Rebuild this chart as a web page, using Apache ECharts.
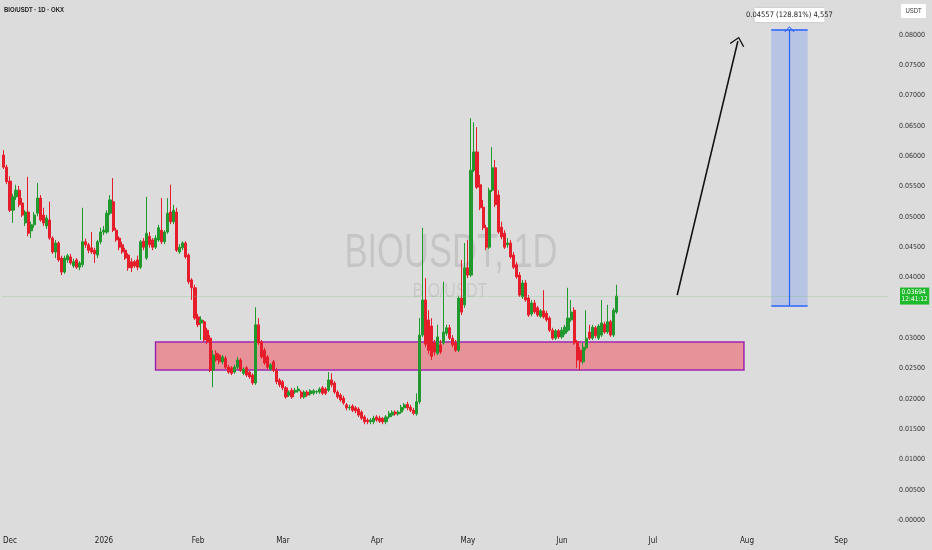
<!DOCTYPE html>
<html><head><meta charset="utf-8">
<script src="https://cdn.jsdelivr.net/npm/echarts@6/dist/echarts.min.js"></script>
<style>html,body{margin:0;padding:0;background:#dcdcdc}#c{width:932px;height:550px}</style>
</head><body><div id="c"></div>
<script>
// ---- data ----
const startDate = '2025-11-29';   // first category (daily)
const dayCount = 292;             // categories through mid-September 2026
const monthNames = ['2026','Feb','Mar','Apr','May','Jun','Jul','Aug','Sep','Oct','Nov','Dec'];

const openP = [
.0602,.0582,.0559,.0511,.0533,.0544,.0523,.0490,.0508,.0477,
.0487,.0506,.0531,.0503,.0485,.0495,.0465,.0442,.0457,.0432,
.0409,.0429,.0434,.0419,.0429,.0417,.0421,.0459,.0454,.0449,
.0445,.0437,.0459,.0475,.0475,.0506,.0525,.0478,.0465,.0454,
.0445,.0437,.0426,.0426,.0429,.0417,.0460,.0432,.0468,.0462,
.0450,.0462,.0478,.0459,.0475,.0508,.0492,.0508,.0442,.0449,
.0457,.0437,.0396,.0383,.0335,.0325,.0327,.0313,.0300,.0247,
.0275,.0272,.0261,.0267,.0252,.0251,.0244,.0252,.0264,.0242,
.0251,.0244,.0239,.0226,.0322,.0294,.0280,.0269,.0249,.0261,
.0247,.0231,.0228,.0218,.0206,.0214,.0211,.0213,.0211,.0203,
.0211,.0208,.0209,.0211,.0211,.0218,.0216,.0214,.0231,.0226,
.0211,.0206,.0201,.0190,.0185,.0188,.0185,.0183,.0178,.0170,
.0165,.0162,.0162,.0170,.0168,.0167,.0162,.0170,.0173,.0178,
.0175,.0178,.0185,.0191,.0186,.0181,.0175,.0195,.0305,.0363,
.0330,.0320,.0292,.0275,.0289,.0292,.0308,.0317,.0300,.0292,
.0280,.0366,.0355,.0416,.0404,.0577,.0607,.0553,.0516,.0482,
.0450,.0544,.0581,.0536,.0483,.0473,.0454,.0457,.0437,.0421,
.0404,.0368,.0391,.0366,.0340,.0358,.0350,.0336,.0345,.0341,
.0333,.0313,.0300,.0312,.0302,.0308,.0313,.0330,.0346,.0294,
.0280,.0261,.0284,.0310,.0300,.0317,.0300,.0305,.0323,.0310,
.0327,.0305,.0343];
const closeP = [
.0582,.0558,.0511,.0533,.0544,.0520,.0503,.0508,.0473,.0487,
.0503,.0531,.0495,.0490,.0498,.0465,.0442,.0457,.0429,.0409,
.0432,.0436,.0424,.0426,.0417,.0424,.0459,.0454,.0445,.0442,
.0439,.0459,.0475,.0478,.0506,.0528,.0478,.0462,.0450,.0442,
.0432,.0416,.0416,.0419,.0417,.0459,.0450,.0473,.0454,.0450,
.0465,.0482,.0459,.0475,.0506,.0492,.0511,.0445,.0450,.0457,
.0434,.0393,.0383,.0333,.0322,.0330,.0297,.0294,.0247,.0272,
.0264,.0261,.0269,.0252,.0244,.0242,.0252,.0264,.0247,.0249,
.0239,.0236,.0226,.0322,.0292,.0269,.0259,.0252,.0256,.0247,
.0228,.0223,.0218,.0203,.0211,.0203,.0214,.0216,.0203,.0211,
.0206,.0213,.0213,.0212,.0216,.0209,.0209,.0231,.0223,.0211,
.0203,.0198,.0193,.0185,.0186,.0181,.0180,.0173,.0168,.0162,
.0162,.0165,.0168,.0165,.0163,.0162,.0170,.0176,.0178,.0175,
.0178,.0186,.0190,.0185,.0181,.0176,.0195,.0305,.0363,.0290,
.0280,.0270,.0277,.0302,.0277,.0310,.0317,.0300,.0289,.0280,
.0366,.0343,.0416,.0404,.0577,.0607,.0549,.0515,.0482,.0450,
.0544,.0581,.0520,.0475,.0467,.0450,.0457,.0434,.0417,.0401,
.0371,.0391,.0363,.0338,.0358,.0343,.0338,.0345,.0335,.0330,
.0313,.0300,.0312,.0302,.0313,.0318,.0333,.0343,.0292,.0264,
.0261,.0285,.0300,.0300,.0318,.0304,.0320,.0325,.0310,.0327,
.0305,.0346,.03694];
const lowP = [
.0579,.0554,.0508,.0490,.0528,.0516,.0500,.0485,.0468,.0465,
.0482,.0501,.0492,.0485,.0480,.0462,.0439,.0432,.0426,.0404,
.0406,.0424,.0421,.0416,.0414,.0412,.0417,.0449,.0440,.0439,
.0424,.0432,.0455,.0470,.0472,.0503,.0475,.0459,.0445,.0439,
.0429,.0411,.0409,.0416,.0412,.0414,.0445,.0429,.0449,.0445,
.0447,.0459,.0455,.0455,.0472,.0488,.0488,.0442,.0439,.0445,
.0431,.0389,.0363,.0330,.0318,.0297,.0294,.0290,.0244,.0219,
.0261,.0257,.0257,.0249,.0241,.0239,.0241,.0249,.0244,.0239,
.0236,.0233,.0223,.0223,.0289,.0266,.0256,.0249,.0246,.0244,
.0224,.0219,.0214,.0200,.0203,.0200,.0208,.0210,.0200,.0200,
.0203,.0205,.0206,.0208,.0208,.0206,.0206,.0211,.0219,.0208,
.0200,.0195,.0190,.0181,.0181,.0178,.0176,.0170,.0165,.0158,
.0158,.0158,.0158,.0162,.0160,.0158,.0158,.0167,.0170,.0172,
.0172,.0175,.0181,.0181,.0178,.0173,.0172,.0191,.0302,.0285,
.0274,.0264,.0271,.0272,.0274,.0289,.0304,.0297,.0285,.0277,
.0277,.0338,.0350,.0399,.0401,.0574,.0546,.0511,.0478,.0445,
.0447,.0541,.0516,.0472,.0463,.0447,.0449,.0431,.0414,.0398,
.0368,.0365,.0360,.0335,.0336,.0340,.0335,.0333,.0332,.0327,
.0310,.0297,.0297,.0299,.0299,.0305,.0310,.0327,.0289,.0251,
.0247,.0257,.0280,.0297,.0297,.0300,.0297,.0302,.0307,.0307,
.0302,.0302,.0340];
const highP = [
.0610,.0586,.0567,.0538,.0553,.0551,.0531,.0511,.0566,.0492,
.0508,.0556,.0536,.0515,.0503,.0525,.0468,.0462,.0460,.0436,
.0436,.0439,.0439,.0431,.0432,.0427,.0515,.0464,.0457,.0475,
.0449,.0462,.0482,.0485,.0511,.0536,.0564,.0482,.0468,.0459,
.0449,.0440,.0432,.0429,.0436,.0462,.0465,.0533,.0475,.0465,
.0470,.0487,.0531,.0478,.0531,.0553,.0520,.0515,.0455,.0460,
.0460,.0440,.0399,.0388,.0340,.0336,.0330,.0317,.0305,.0280,
.0280,.0275,.0272,.0271,.0256,.0254,.0256,.0269,.0267,.0252,
.0254,.0247,.0242,.0351,.0333,.0297,.0284,.0272,.0259,.0264,
.0251,.0234,.0231,.0221,.0214,.0218,.0218,.0221,.0214,.0214,
.0214,.0216,.0216,.0214,.0219,.0221,.0219,.0244,.0242,.0229,
.0214,.0209,.0205,.0193,.0190,.0191,.0188,.0186,.0181,.0173,
.0168,.0168,.0172,.0173,.0172,.0170,.0173,.0180,.0181,.0181,
.0181,.0190,.0193,.0195,.0190,.0185,.0209,.0333,.0482,.0399,
.0346,.0333,.0297,.0322,.0297,.0393,.0322,.0322,.0305,.0297,
.0369,.0429,.0457,.0462,.0663,.0656,.0648,.0569,.0528,.0487,
.0548,.0615,.0594,.0544,.0492,.0478,.0465,.0462,.0442,.0426,
.0409,.0396,.0396,.0371,.0363,.0363,.0353,.0348,.0379,.0345,
.0336,.0317,.0315,.0315,.0318,.0322,.0383,.0363,.0351,.0297,
.0285,.0292,.0346,.0322,.0322,.0320,.0323,.0363,.0327,.0355,
.0330,.0350,.0388];

const lastPrice = 0.03694;
const lastTime = '12:41:12';
const zone = {from:'2026-01-18', to:'2026-07-31', top:0.02936, bottom:0.02474};
const target = {from:'2026-08-09', mid:'2026-08-15', to:'2026-08-21', base:0.03538, top:0.08095, labelY:0.0833,
                text:'0.04557 (128.81%) 4,557'};
const arrowLine = {from:['2026-07-09',0.0371], to:['2026-07-29',0.0790]};

// ---- build ----
const dates = [];
{
  const t0 = Date.parse(startDate + 'T00:00:00Z');
  for (let i = 0; i < dayCount; i++) dates.push(new Date(t0 + i * 86400000).toISOString().slice(0, 10));
}
const candles = openP.map((o, i) => [o, closeP[i], lowP[i], highP[i]]);

const FONT = "'Liberation Sans Narrow','DejaVu Sans Condensed','Roboto Condensed','Liberation Sans',sans-serif";
const UP = '#22992f', DOWN = '#e61e2b';
const chevron = 'path://M7.5,0 L15,8.2 L13.9,9 L7.5,1.9 L1.1,9 L0,8.2 Z';

const chart = echarts.init(document.getElementById('c'), null, {renderer: 'canvas'});
chart.setOption({
  backgroundColor: '#dcdcdc',
  animation: false,
  grid: {left: 0, right: 44, top: 4.7, bottom: 30},
  xAxis: {
    type: 'category', data: dates, boundaryGap: true,
    axisLine: {show: false}, axisTick: {show: false}, splitLine: {show: false},
    axisLabel: {
      interval: (i, v) => v.slice(8) === '01',
      formatter: v => { const m = +v.slice(5, 7); return m === 12 ? 'Dec' : monthNames[m - 1]; },
      color: '#222', fontSize: 8, fontFamily: FONT, margin: 17
    }
  },
  yAxis: {
    type: 'value', position: 'right', min: 0, max: 0.085, interval: 0.005, scale: false,
    axisLine: {show: false}, axisTick: {show: false}, splitLine: {show: false},
    axisLabel: {
      showMaxLabel: false, align: 'right', margin: 37, color: '#333', fontSize: 7, fontFamily: FONT,
      formatter: v => Math.abs(v) < 1e-9 ? '-0.00000' : (Math.abs(v - 0.035) < 1e-9 ? '' : v.toFixed(5))
    }
  },
  series: [{
    type: 'candlestick', data: candles, barWidth: 2.6,
    itemStyle: {color: UP, color0: DOWN, borderColor: UP, borderColor0: DOWN, borderWidth: 1},
    markArea: {
      silent: true,
      data: [
        [{xAxis: zone.from, yAxis: zone.top, itemStyle: {color: 'rgba(242,58,72,0.46)', borderColor: '#9c27b0', borderWidth: 1.5}},
         {xAxis: zone.to, yAxis: zone.bottom}],
        [{xAxis: target.from, yAxis: target.top, itemStyle: {color: 'rgba(41,98,255,0.2)', borderWidth: 0}},
         {xAxis: target.to, yAxis: target.base}]
      ]
    },
    markLine: {
      silent: true, symbol: 'none', animation: false, precision: 6,
      data: [
        {yAxis: lastPrice, lineStyle: {color: 'rgba(120,190,120,0.55)', type: 'dotted', width: 1},
         label: {show: true, position: 'end', distance: 12, formatter: p => (+p.value).toFixed(5) + '\n' + lastTime,
                 backgroundColor: '#1fba2c', color: '#fff', fontSize: 6.5, lineHeight: 7.5, padding: [1, 1.5], fontFamily: FONT}},
        [{coord: arrowLine.from, symbol: 'none', lineStyle: {color: '#111', width: 1.6, type: 'solid'}, label: {show: false}},
         {coord: arrowLine.to, symbol: chevron, symbolSize: [15, 9], lineStyle: {color: '#111', width: 1.6, type: 'solid'}}],
        [{coord: [target.mid, target.base], symbol: 'none', lineStyle: {color: '#2962ff', width: 1.2, type: 'solid'}, label: {show: false}},
         {coord: [target.mid, target.top], symbol: chevron, symbolSize: [10, 6], lineStyle: {color: '#2962ff', width: 1.2, type: 'solid'}}],
        [{coord: [target.from, target.top], lineStyle: {color: '#2962ff', width: 1.5, type: 'solid'}, label: {show: false}},
         {coord: [target.to, target.top]}],
        [{coord: [target.from, target.base], lineStyle: {color: '#2962ff', width: 1.5, type: 'solid'}, label: {show: false}},
         {coord: [target.to, target.base]}]
      ]
    },
    markPoint: {
      silent: true, animation: false,
      data: [{coord: [target.mid, target.labelY], symbol: 'rect', symbolSize: [70, 14],
              itemStyle: {color: '#ffffff', shadowColor: 'rgba(0,0,0,0.15)', shadowBlur: 2},
              label: {show: true, position: 'inside', formatter: target.text, color: '#222', fontSize: 7.5, fontFamily: FONT}}]
    }
  }],
  graphic: [
    {type: 'text', x: 451, y: 254, scaleX: 0.72, silent: true, z: -1,
     style: {text: 'BIOUSDT, 1D', fontSize: 48, fontFamily: "'Liberation Sans',sans-serif", fill: 'rgba(0,0,0,0.1)', align: 'center', verticalAlign: 'middle'}},
    {type: 'text', x: 450, y: 291, scaleX: 0.75, silent: true, z: -1,
     style: {text: 'BIO/USDT', fontSize: 21, fontFamily: "'Liberation Sans',sans-serif", fill: 'rgba(0,0,0,0.09)', align: 'center', verticalAlign: 'middle'}},
    {type: 'text', x: 4, y: 10, scaleX: 0.75, silent: true,
     style: {text: 'BIO/USDT · 1D · OKX', fontSize: 8, fontWeight: 'bold', fontFamily: "'Liberation Sans',sans-serif", fill: '#222', align: 'left', verticalAlign: 'middle'}},
    {type: 'rect', shape: {x: 901, y: 4, width: 25, height: 14, r: 1}, style: {fill: '#ffffff'}, silent: true},
    {type: 'text', x: 913.5, y: 11, scaleX: 0.85, silent: true,
     style: {text: 'USDT', fontSize: 7, fontFamily: "'Liberation Sans',sans-serif", fill: '#333', align: 'center', verticalAlign: 'middle'}}
  ]
});
</script></body></html>
